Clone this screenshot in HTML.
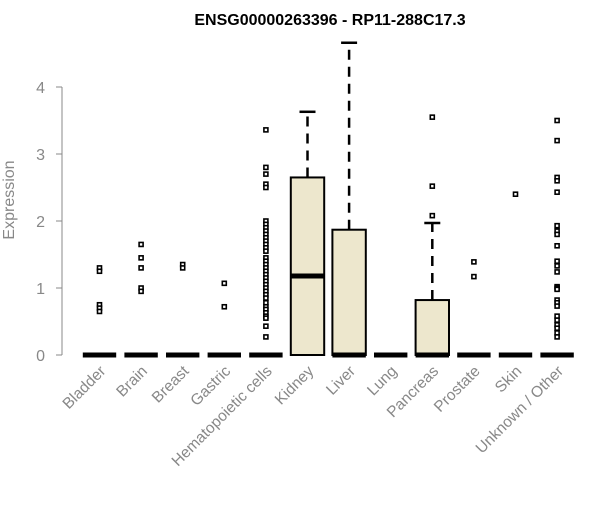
<!DOCTYPE html>
<html><head><meta charset="utf-8"><style>
body{margin:0;background:#fff}
svg text{font-family:"Liberation Sans",Arial,sans-serif}
</style></head><body>
<svg id="chart" width="600" height="500" xmlns="http://www.w3.org/2000/svg">
<text x="330" y="25" text-anchor="middle" font-size="16" font-weight="bold">ENSG00000263396 - RP11-288C17.3</text>
<text transform="translate(14,200) rotate(-90)" text-anchor="middle" font-size="16" fill="#888">Expression</text>
<g id="yaxis"></g>
<g id="boxes"></g>
<g id="xlabels"></g>
</svg>
<script>
const categories=["Bladder","Brain","Breast","Gastric","Hematopoietic cells","Kidney","Liver","Lung","Pancreas","Prostate","Skin","Unknown / Other"];
const q1=[0,0,0,0,0,0,0,0,0,0,0,0];
const medians=[0,0,0,0,0,1.18,0,0,0,0,0,0];
const q3=[0,0,0,0,0,2.65,1.87,0,0.82,0,0,0];
const whiskerHi=[0,0,0,0,0,3.63,4.66,0,1.97,0,0,0];
const outliers=[
 [1.3,1.25,0.75,0.7,0.65],
 [1.65,1.45,1.3,1.0,0.95],
 [1.35,1.3],
 [1.07,0.72],
 [3.36,2.8,2.7,2.55,2.5,2.0,1.95,1.9,1.85,1.8,1.75,1.7,1.65,1.6,1.55,1.45,1.4,1.35,1.3,1.25,1.2,1.15,1.1,1.05,1.0,0.95,0.9,0.85,0.78,0.72,0.68,0.63,0.58,0.55,0.43,0.27],
 [],[],[],
 [3.55,2.52,2.08],
 [1.39,1.17],
 [2.4],
 [3.5,3.2,2.65,2.6,2.43,1.93,1.85,1.8,1.63,1.4,1.33,1.24,1.02,1.0,0.98,0.82,0.78,0.73,0.58,0.52,0.45,0.4,0.33,0.27]
];
const yTicks=[0,1,2,3,4];
const NS="http://www.w3.org/2000/svg";
const y=v=>355-67*v;
const x=i=>99.5+41.6*i;
const HW=16.7;
function mk(tag,attrs,parent){const e=document.createElementNS(NS,tag);for(const k in attrs)e.setAttribute(k,attrs[k]);parent.appendChild(e);return e;}
const ya=document.getElementById('yaxis');
let l=mk('line',{x1:62,x2:62,y1:y(4),y2:y(0),stroke:'#888','stroke-width':1},ya);


yTicks.forEach(t=>{
 const tk=mk('line',{x1:56,x2:62,y1:y(t),y2:y(t),stroke:'#888'},ya);
 
 
 const tx=mk('text',{x:45,y:y(t)+6,'text-anchor':'end','font-size':16,fill:'#888'},ya);
 tx.textContent=t;
 
 
});
const bg=document.getElementById('boxes');
const xl=document.getElementById('xlabels');
categories.forEach((c,i)=>{
 const cx=x(i);
 const g=mk('g',{},bg);
 
 
 if(whiskerHi[i]>q3[i]){
  mk('line',{x1:cx,x2:cx,y1:y(q3[i]),y2:y(whiskerHi[i]),stroke:'#000','stroke-width':2.5,'stroke-dasharray':'10,7'},g);
  mk('line',{x1:cx-8,x2:cx+8,y1:y(whiskerHi[i]),y2:y(whiskerHi[i]),stroke:'#000','stroke-width':2.5},g);
 }
 if(q3[i]>q1[i]){
  mk('rect',{x:cx-HW,y:y(q3[i]),width:2*HW,height:y(q1[i])-y(q3[i]),fill:'#ede7cd',stroke:'#000','stroke-width':2},g);
 }
 mk('line',{x1:cx-HW,x2:cx+HW,y1:y(medians[i]),y2:y(medians[i]),stroke:'#000','stroke-width':5},g);
 outliers[i].forEach(v=>{
  const p=mk('rect',{x:cx-2,y:y(v)-2,width:4,height:4,fill:'#fff',stroke:'#000','stroke-width':1.6},g);
  
  
 });
 const t=mk('text',{transform:`translate(${cx+7},${372}) rotate(-45)`,'text-anchor':'end','font-size':15.5,fill:'#888'},xl);
 t.textContent=c;
 
 
});
</script>
</body></html>
